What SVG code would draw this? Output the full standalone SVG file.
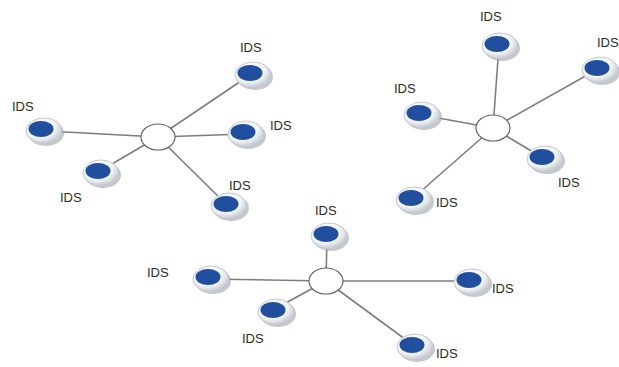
<svg xmlns="http://www.w3.org/2000/svg" width="619" height="367" viewBox="0 0 619 367">
<defs>
<radialGradient id="ring" cx="0.4" cy="0.35" r="0.7">
<stop offset="0" stop-color="#ffffff"/>
<stop offset="0.6" stop-color="#f2f4f7"/>
<stop offset="1" stop-color="#b9bec6"/>
</radialGradient>
<g id="node">
<ellipse cx="2" cy="2" rx="18" ry="13" fill="#9ea3aa" opacity="0.6"/>
<ellipse cx="0" cy="0" rx="18" ry="13" fill="url(#ring)" stroke="#c5c9cf" stroke-width="1"/>
<ellipse cx="-3" cy="-2" rx="12.5" ry="8" fill="#1f4f9e"/>
</g>
</defs>
<style>
.l{stroke:#7d7d7d;stroke-width:1.6;fill:none}
.hub{fill:#ffffff;stroke:#666;stroke-width:1.2}
text{font-family:"Liberation Sans",Arial,sans-serif;font-size:13px;fill:#2a2a2a}
</style>
<rect width="619" height="367" fill="#ffffff"/>
<g id="connectors">
<line class="l" x1="158" y1="137" x2="250" y2="75"/>
<line class="l" x1="158" y1="137" x2="47" y2="131"/>
<line class="l" x1="158" y1="137" x2="245" y2="134"/>
<line class="l" x1="158" y1="137" x2="100" y2="171"/>
<line class="l" x1="158" y1="137" x2="227" y2="205"/>
<line class="l" x1="493" y1="128" x2="499" y2="45"/>
<line class="l" x1="493" y1="128" x2="598" y2="69"/>
<line class="l" x1="493" y1="128" x2="422" y2="115"/>
<line class="l" x1="493" y1="128" x2="543" y2="158"/>
<line class="l" x1="493" y1="128" x2="412" y2="199"/>
<line class="l" x1="326" y1="281" x2="327" y2="235"/>
<line class="l" x1="326" y1="281" x2="209" y2="279"/>
<line class="l" x1="326" y1="281" x2="470" y2="281"/>
<line class="l" x1="326" y1="281" x2="273" y2="310"/>
<line class="l" x1="326" y1="281" x2="413" y2="345"/>
</g>
<g id="hub1"><ellipse class="hub" cx="158" cy="137" rx="17" ry="13"/></g>
<g id="hub2"><ellipse class="hub" cx="493" cy="128" rx="17" ry="13"/></g>
<g id="hub3"><ellipse class="hub" cx="326" cy="281" rx="17" ry="13"/></g>
<g id="n1a"><use href="#node" x="253" y="75"/><text x="240" y="52">IDS</text></g>
<g id="n1b"><use href="#node" x="44" y="131"/><text x="12" y="111">IDS</text></g>
<g id="n1c"><use href="#node" x="246" y="134"/><text x="270" y="130">IDS</text></g>
<g id="n1d"><use href="#node" x="101" y="173"/><text x="60" y="202">IDS</text></g>
<g id="n1e"><use href="#node" x="229" y="206"/><text x="229" y="190">IDS</text></g>
<g id="n2a"><use href="#node" x="500" y="46"/><text x="480" y="21">IDS</text></g>
<g id="n2b"><use href="#node" x="600" y="70"/><text x="597" y="47">IDS</text></g>
<g id="n2c"><use href="#node" x="422" y="115"/><text x="394" y="93">IDS</text></g>
<g id="n2d"><use href="#node" x="545" y="159"/><text x="558" y="187">IDS</text></g>
<g id="n2e"><use href="#node" x="414" y="200"/><text x="436" y="207">IDS</text></g>
<g id="n3a"><use href="#node" x="329" y="236"/><text x="315" y="215">IDS</text></g>
<g id="n3b"><use href="#node" x="211" y="279"/><text x="147" y="277">IDS</text></g>
<g id="n3c"><use href="#node" x="472" y="282"/><text x="492" y="293">IDS</text></g>
<g id="n3d"><use href="#node" x="276" y="312"/><text x="242" y="343">IDS</text></g>
<g id="n3e"><use href="#node" x="415" y="347"/><text x="436" y="358">IDS</text></g>
</svg>
